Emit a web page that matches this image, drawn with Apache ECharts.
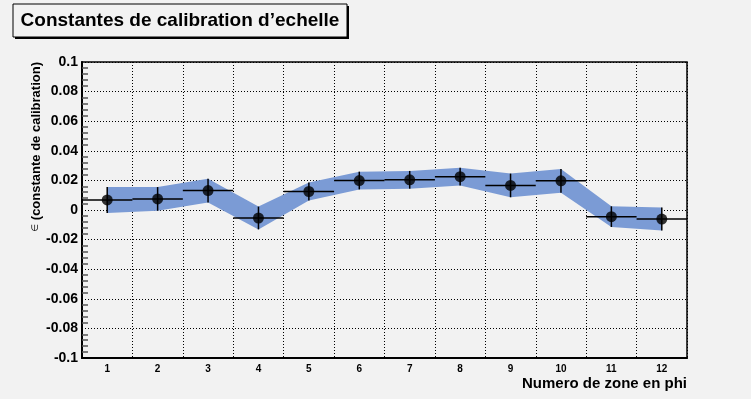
<!DOCTYPE html>
<html>
<head>
<meta charset="utf-8">
<script src="https://cdn.jsdelivr.net/npm/echarts@6/dist/echarts.min.js"></script>
<style>
html,body{margin:0;padding:0;background:#f2f2f2;}
#c{width:751px;height:399px;}
</style>
</head>
<body>
<div id="c"></div>
<script>
var categories = ['1','2','3','4','5','6','7','8','9','10','11','12'];
var values = [0.0068, 0.0075, 0.0131, -0.0054, 0.0125, 0.0199, 0.0204, 0.0225, 0.0166, 0.0197, -0.0045, -0.0061];
var errors = [0.0088, 0.0080, 0.0080, 0.0077, 0.0060, 0.0060, 0.0060, 0.0060, 0.0080, 0.0080, 0.0070, 0.0078];
var yTicks = { min: -0.1, max: 0.1, interval: 0.02 };
var titleText = 'Constantes de calibration d\u2019echelle';
var ySymbol = '\u2208';
var yName = ' (constante de calibration)';
var xName = 'Numero de zone en phi';

var FONT = 'Liberation Sans, Arial, Helvetica, sans-serif';
var chart = echarts.init(document.getElementById('c'), null, {renderer: 'canvas'});

var pointData = values.map(function (v, i) { return [i, v, errors[i]]; });

var option = {
  backgroundColor: '#f2f2f2',
  animation: false,
  grid: { left: 82, top: 62, width: 605, height: 296, show: true, borderColor: '#000', borderWidth: 1.5, backgroundColor: 'transparent' },
  xAxis: {
    type: 'category',
    data: categories,
    boundaryGap: true,
    axisLine: { onZero: false, lineStyle: { color: '#000', width: 2 } },
    axisTick: { inside: true, length: 8, interval: 0, lineStyle: { color: '#000', width: 1.5 } },
    axisLabel: { interval: 0, color: '#000', fontFamily: FONT, fontWeight: 'bold', fontSize: 10, margin: 6 },
    splitLine: { show: true, interval: 0, lineStyle: { color: '#000', width: 1, type: [1, 2] } }
  },
  yAxis: {
    type: 'value',
    min: yTicks.min, max: yTicks.max, interval: yTicks.interval,
    axisLine: { show: true, onZero: false, lineStyle: { color: '#000', width: 2 } },
    axisTick: { inside: true, length: 12, lineStyle: { color: '#000', width: 1.5 } },
    minorTick: { show: true, splitNumber: 5, length: 6, lineStyle: { color: '#555', width: 1.5 } },
    axisLabel: { color: '#000', fontFamily: FONT, fontWeight: 'bold', fontSize: 14, margin: 4,
      formatter: function (v) { var r = Math.round(v * 100) / 100; return r === 0 ? '0' : String(r); } },
    splitLine: { show: true, lineStyle: { color: '#000', width: 1, type: [1, 2] } }
  },
  series: [
    {
      type: 'custom',
      data: pointData,
      z: 1,
      renderItem: function (params, api) {
        if (params.dataIndex !== 0) return null;
        var up = [], lo = [];
        for (var i = 0; i < values.length; i++) {
          up.push(api.coord([i, values[i] + errors[i]]));
          lo.push(api.coord([i, values[i] - errors[i]]));
        }
        var pts = up.concat(lo.reverse());
        return { type: 'polygon', shape: { points: pts }, style: { fill: '#7b9bd5', stroke: null } };
      }
    },
    {
      type: 'custom',
      data: pointData,
      z: 2,
      renderItem: function (params, api) {
        var x = api.value(0), y = api.value(1), e = api.value(2);
        var p = api.coord([x, y]);
        var t = api.coord([x, y + e]);
        var b = api.coord([x, y - e]);
        var w = api.size([1, 0])[0];
        var st = { stroke: '#000', lineWidth: 1.5 };
        return { type: 'group', children: [
          { type: 'line', shape: { x1: p[0] - w / 2, y1: p[1], x2: p[0] + w / 2, y2: p[1] }, style: st },
          { type: 'line', shape: { x1: p[0], y1: t[1], x2: p[0], y2: b[1] }, style: st }
        ]};
      }
    },
    {
      type: 'scatter',
      data: pointData.map(function (d) { return [d[0], d[1]]; }),
      symbol: 'circle',
      symbolSize: 11,
      itemStyle: { color: '#000' },
      z: 3
    }
  ],
  graphic: [
    { type: 'rect', shape: { x: 15, y: 6, width: 334, height: 33 }, style: { fill: '#000' }, z: 10 },
    { type: 'rect', shape: { x: 13, y: 4, width: 334, height: 33 }, style: { fill: '#f2f2f2', stroke: '#000', lineWidth: 1 }, z: 11 },
    { type: 'text', x: 180, y: 21, z: 12, style: { text: titleText, fontFamily: FONT, fontWeight: 'bold', fontSize: 19, fill: '#000', textAlign: 'center', textVerticalAlign: 'middle' } },
    { type: 'text', x: 36, y: 62, rotation: Math.PI / 2, z: 12, style: {
        text: '{s|' + ySymbol + '}{t|' + yName + '}',
        textAlign: 'right', textVerticalAlign: 'middle',
        rich: {
          s: { fontFamily: 'DejaVu Sans, sans-serif', fontWeight: 'normal', fontSize: 9, fill: '#000' },
          t: { fontFamily: FONT, fontWeight: 'bold', fontSize: 13, fill: '#000' }
        } } },
    { type: 'text', x: 687, y: 384, z: 12, style: { text: xName, fontFamily: FONT, fontWeight: 'bold', fontSize: 15, fill: '#000', textAlign: 'right', textVerticalAlign: 'middle' } }
  ]
};
chart.setOption(option);
</script>
</body>
</html>
